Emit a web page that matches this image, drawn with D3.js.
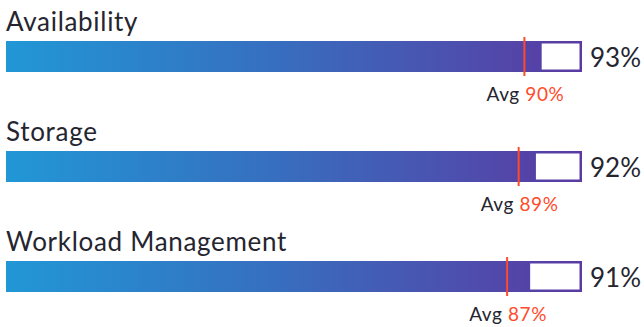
<!DOCTYPE html>
<html><head><meta charset="utf-8">
<script src="https://cdn.jsdelivr.net/npm/d3@7"></script>
<style>html,body{margin:0;padding:0;background:#fff;}svg{display:block;}</style>
</head><body>
<svg id="chart" width="644" height="327"></svg>
<script>
const categories = ["Availability", "Storage", "Workload Management"];
const scores = [93, 92, 91];
const averages = [90, 89, 87];

const W = 644, H = 327;
const font = "Lato, sans-serif";
const textColor = "#25252f";
const avgColor = "#ff4a2b";
const svg = d3.select("#chart");

const x = d3.scaleLinear().domain([0, 100]).range([6, 582]);
const y = d3.scaleBand().domain(categories).range([41, 371]).paddingInner(0).paddingOuter(0);
const barH = 31;

const defs = svg.append("defs");
const grad = defs.append("linearGradient").attr("id", "g").attr("gradientUnits", "userSpaceOnUse")
  .attr("x1", x(0)).attr("x2", x(100)).attr("y1", 0).attr("y2", 0);
grad.append("stop").attr("offset", "0%").attr("stop-color", "#2197d6");
grad.append("stop").attr("offset", "45%").attr("stop-color", "#3670c0");
grad.append("stop").attr("offset", "100%").attr("stop-color", "#5b3aa2");

const rows = svg.selectAll("g.row").data(categories).join("g").attr("class", "row")
  .attr("transform", d => `translate(0,${y(d)})`);

rows.append("text").attr("x", 6).attr("y", -10)
  .attr("font-family", font).attr("font-size", 26).attr("letter-spacing", 0.7)
  .attr("fill", textColor).text(d => d);

rows.append("rect").attr("x", x(0)).attr("y", 0).attr("width", x(100) - x(0)).attr("height", barH)
  .attr("fill", "url(#g)");

const bw = 2.5;
rows.append("rect").attr("x", (d, i) => x(scores[i]))
  .attr("y", bw).attr("width", (d, i) => x(100) - bw - x(scores[i])).attr("height", barH - 2 * bw)
  .attr("fill", "#fff");

rows.append("line").attr("x1", (d, i) => x(averages[i])).attr("x2", (d, i) => x(averages[i]))
  .attr("y1", -4).attr("y2", barH + 4).attr("stroke", avgColor).attr("stroke-width", 2);

rows.append("text").attr("x", x(100) + 8).attr("y", barH - 5)
  .attr("font-family", font).attr("font-size", 26).attr("fill", textColor)
  .text((d, i) => scores[i] + "%");

const avgT = rows.append("text").attr("x", (d, i) => x(averages[i]) + 1).attr("y", 60)
  .attr("text-anchor", "middle").attr("font-family", font).attr("font-size", 19).attr("letter-spacing", 0.6);
avgT.append("tspan").attr("fill", textColor).text("Avg ");
avgT.append("tspan").attr("fill", avgColor).text((d, i) => averages[i] + "%");
</script>
</body></html>
